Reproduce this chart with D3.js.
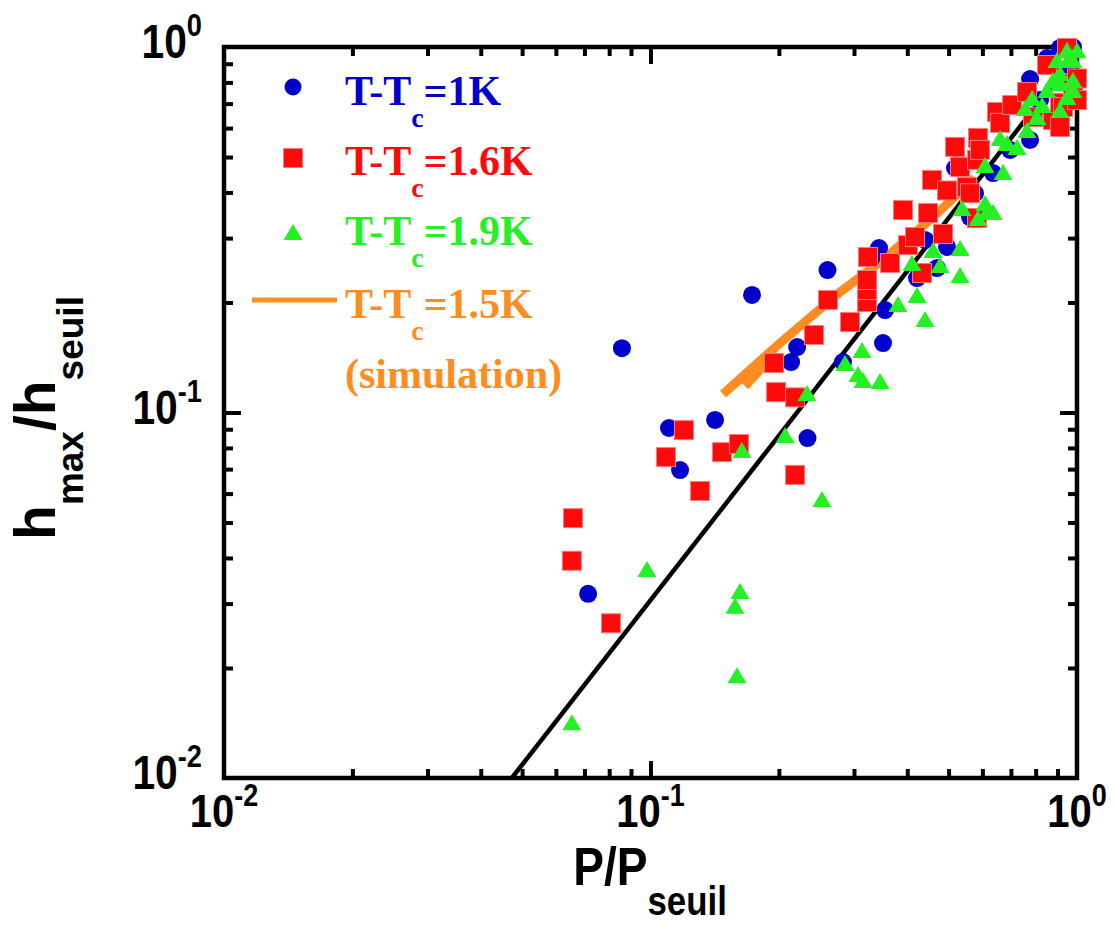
<!DOCTYPE html>
<html><head><meta charset="utf-8">
<script src="https://cdn.jsdelivr.net/npm/d3@7"></script>
<style>body{margin:0;background:#fff}svg{display:block}</style>
</head><body><svg id="c" width="1114" height="927"></svg>
<script>
// ---- data (P/P_seuil, h_max/h_seuil) ----
const blue1K = [[0.0857,0.150],[0.0714,0.0319],[0.1105,0.0907],[0.1173,0.0696],[0.1417,0.0954],[0.1730,0.2097],[0.2334,0.0851],[0.2136,0.1374],[0.2207,0.1510],[0.2600,0.2453],[0.2827,0.1374],[0.3307,0.2663],[0.3434,0.2819],[0.3548,0.1907],[0.3509,0.1549],[0.4217,0.2333],[0.4402,0.2965],[0.4696,0.2484],[0.4957,0.2837],[0.5176,0.4666],[0.5613,0.3426],[0.5766,0.398],[0.6355,0.452],[0.7762,0.557],[0.7762,0.817],[0.8502,0.933],[0.9122,0.994],[0.9786,1.0],[0.697,0.523],[0.819,0.716],[0.937,0.865]];
const red16K = [[0.0658,0.0514],[0.0654,0.0393],[0.0808,0.0265],[0.1087,0.0755],[0.1198,0.0895],[0.1307,0.0610],[0.1471,0.0779],[0.1612,0.0820],[0.1948,0.1365],[0.1970,0.1137],[0.2183,0.110],[0.2183,0.0675],[0.2418,0.1629],[0.2607,0.2032],[0.2936,0.1768],[0.3219,0.2006],[0.3219,0.2163],[0.3219,0.2304],[0.3236,0.2663],[0.3645,0.2564],[0.3908,0.358],[0.4016,0.287],[0.4171,0.302],[0.4332,0.2407],[0.4474,0.3513],[0.4851,0.308],[0.4571,0.4328],[0.4957,0.405],[0.5176,0.533],[0.5521,0.414],[0.5613,0.398],[0.5829,0.3404],[0.5318,0.4695],[0.5829,0.491],[0.5861,0.564],[0.5925,0.523],[0.6493,0.664],[0.6601,0.620],[0.7042,0.694],[0.7636,0.753],[0.7888,0.643],[0.8502,0.893],[0.8782,0.631],[0.9122,0.703],[0.9272,0.685],[0.9122,0.604],[0.9474,0.994],[0.9786,0.797],[0.9786,0.748],[1.0,0.82],[1.0,0.716]];
const green19K = [[0.0654,0.0142],[0.0981,0.0373],[0.1621,0.0325],[0.1578,0.0296],[0.1595,0.0191],[0.1638,0.0789],[0.2068,0.0868],[0.2328,0.1130],[0.2524,0.0580],[0.2858,0.1365],[0.3133,0.1482],[0.3066,0.1274],[0.315,0.1227],[0.3453,0.1219],[0.3804,0.1981],[0.4217,0.2097],[0.4402,0.1802],[0.4103,0.2564],[0.4596,0.2784],[0.4773,0.2532],[0.5318,0.2819],[0.5318,0.2377],[0.5376,0.3626],[0.6087,0.374],[0.6152,0.3535],[0.6355,0.3535],[0.5861,0.3404],[0.6087,0.4754],[0.6708,0.455],[0.6601,0.564],[0.6855,0.546],[0.7234,0.533],[0.7636,0.593],[0.7554,0.681],[0.7846,0.725],[0.8282,0.694],[0.806,0.643],[0.8502,0.763],[0.9122,0.672],[0.9122,0.797],[0.9474,0.730],[0.9786,0.812],[0.9786,0.763],[0.8974,0.921],[0.9474,0.981],[0.9786,0.921],[0.9122,0.849],[0.8782,0.812],[0.963,0.939],[1.0,0.98]];
const simMain = [[0.1479,0.1123],[0.2012,0.1549],[0.2782,0.2136],[0.3453,0.258],[0.4521,0.3363],[0.5766,0.4382]];
const simBranch = [[0.1666,0.1181],[0.1970,0.1463]];
const fitLine = [[0.0473,0.01],[1.0,0.96]];
const decadeTicks = [0.01, 0.1, 1];
const decadeExp = ["-2", "-1", "0"];
const legendTemps = ["=1K", "=1.6K", "=1.9K", "=1.5K"];

// ---- layout ----
const svg = d3.select('#c');
const L = 224, R = 1077, T = 47, B = 778;
const x = d3.scaleLog().domain([0.01, 1]).range([L, R]);
const y = d3.scaleLog().domain([0.01, 1]).range([B, T]);
const C = {blue:'#0000cc', red:'#ff0a0a', green:'#24f024', orange:'#ff8c1f'};
const sansB = '"Liberation Sans", Arial, Helvetica, sans-serif';
const serif = '"Liberation Serif", "Times New Roman", serif';

const minor = x.ticks().filter(v => decadeTicks.indexOf(v) < 0 && v > 0.01 && v < 1);
const majorMid = [0.1];

// ticks (inward)
const gAx = svg.append('g');
function addAxis(axisFn, scale, vals, len, transform) {
  const a = axisFn(scale).tickValues(vals).tickSize(-len).tickFormat('');
  const g = gAx.append('g').attr('transform', transform).call(a);
  g.select('.domain').remove();
  g.selectAll('line').attr('stroke', '#000').attr('stroke-width', 4);
}
addAxis(d3.axisBottom, x, minor, 9, `translate(0,${B})`);
addAxis(d3.axisBottom, x, majorMid, 17, `translate(0,${B})`);
addAxis(d3.axisTop, x, minor, 9, `translate(0,${T})`);
addAxis(d3.axisTop, x, majorMid, 17, `translate(0,${T})`);
addAxis(d3.axisLeft, y, minor, 9, `translate(${L},0)`);
addAxis(d3.axisLeft, y, majorMid, 17, `translate(${L},0)`);
addAxis(d3.axisRight, y, minor, 9, `translate(${R},0)`);
addAxis(d3.axisRight, y, majorMid, 17, `translate(${R},0)`);
gAx.append('rect').attr('x', L).attr('y', T).attr('width', R - L).attr('height', B - T)
  .attr('fill', 'none').attr('stroke', '#000').attr('stroke-width', 4.5);

// tick labels
function powLabel(exp, size) {
  const t = svg.append('text').attr('font-family', sansB).attr('font-weight', 'bold').attr('fill', '#000');
  t.append('tspan').attr('font-size', size).text('10');
  t.append('tspan').attr('font-size', Math.round(size * 0.67)).attr('dy', -Math.round(size * 0.46)).text(exp);
  return t;
}
decadeTicks.forEach((v, i) => {
  powLabel(decadeExp[i], 46).attr('text-anchor', 'middle')
    .attr('transform', `translate(${x(v)},827) scale(0.87,1)`);
  powLabel(decadeExp[i], 48).attr('text-anchor', 'end')
    .attr('transform', `translate(202,${y(v) + 11}) scale(0.85,1)`);
});

// axis titles
const xt = svg.append('text').attr('font-family', sansB).attr('font-weight', 'bold')
  .attr('text-anchor', 'middle').attr('transform', 'translate(650,885) scale(0.87,1)');
xt.append('tspan').attr('font-size', 53).text('P/P');
xt.append('tspan').attr('font-size', 40).attr('dy', 30).text('seuil');

const yt = svg.append('text').attr('font-family', sansB).attr('font-weight', 'bold')
  .attr('text-anchor', 'middle').attr('transform', 'translate(55,418) rotate(-90)');
yt.append('tspan').attr('font-size', 57).text('h');
yt.append('tspan').attr('font-size', 37).attr('dy', 28).text('max');
yt.append('tspan').attr('font-size', 57).attr('dy', -28).text('/h');
yt.append('tspan').attr('font-size', 37).attr('dy', 28).text('seuil');

// lines
svg.append('clipPath').attr('id', 'clip').append('rect')
  .attr('x', L).attr('y', T).attr('width', R - L).attr('height', B - T);
const line = d3.line().x(d => x(d[0])).y(d => y(d[1]));
svg.append('path').datum(fitLine).attr('d', line).attr('clip-path', 'url(#clip)')
  .attr('fill', 'none').attr('stroke', '#000').attr('stroke-width', 4.5);
[simMain, simBranch].forEach(s => svg.append('path').datum(s).attr('d', line)
  .attr('fill', 'none').attr('stroke', C.orange).attr('stroke-width', 9).attr('stroke-linecap', 'butt'));

// markers
const tri = (cx, cy, w, h) => `M${cx - w / 2},${cy + h / 2}L${cx + w / 2},${cy + h / 2}L${cx},${cy - h / 2}Z`;
svg.append('g').selectAll('circle').data(blue1K).join('circle')
  .attr('cx', d => x(d[0])).attr('cy', d => y(d[1])).attr('r', 9).attr('fill', C.blue);
svg.append('g').selectAll('rect').data(red16K).join('rect')
  .attr('x', d => x(d[0]) - 9.5).attr('y', d => y(d[1]) - 9.5).attr('width', 19).attr('height', 19)
  .attr('fill', C.red).attr('stroke', '#ff7a7a').attr('stroke-width', 1);
svg.append('g').selectAll('path').data(green19K).join('path')
  .attr('d', d => tri(x(d[0]), y(d[1]), 19, 16)).attr('fill', C.green);

// legend
const lg = svg.append('g');
lg.append('circle').attr('cx', 293).attr('cy', 87).attr('r', 8.5).attr('fill', C.blue);
lg.append('rect').attr('x', 283.5).attr('y', 148.5).attr('width', 19).attr('height', 19)
  .attr('fill', C.red).attr('stroke', '#ff7a7a').attr('stroke-width', 1);
lg.append('path').attr('d', tri(293, 232, 19, 16)).attr('fill', C.green);
lg.append('line').attr('x1', 252).attr('x2', 337).attr('y1', 300).attr('y2', 300)
  .attr('stroke', C.orange).attr('stroke-width', 5);
const rows = [105, 175, 245, 318];
const cols = [C.blue, C.red, C.green, C.orange];
legendTemps.forEach((lab, i) => {
  const t = lg.append('text').attr('x', 345).attr('y', rows[i]).attr('font-family', serif)
    .attr('font-weight', 'bold').attr('fill', cols[i]);
  t.append('tspan').attr('font-size', 42).text('T-T');
  t.append('tspan').attr('font-size', 28).attr('dy', 22).text('c');
  t.append('tspan').attr('font-size', 42).attr('dy', -22).text(lab);
});
lg.append('text').attr('x', 345).attr('y', 388).attr('font-family', serif).attr('font-weight', 'bold')
  .attr('font-size', 42).attr('fill', C.orange).text('(simulation)');
</script></body></html>
